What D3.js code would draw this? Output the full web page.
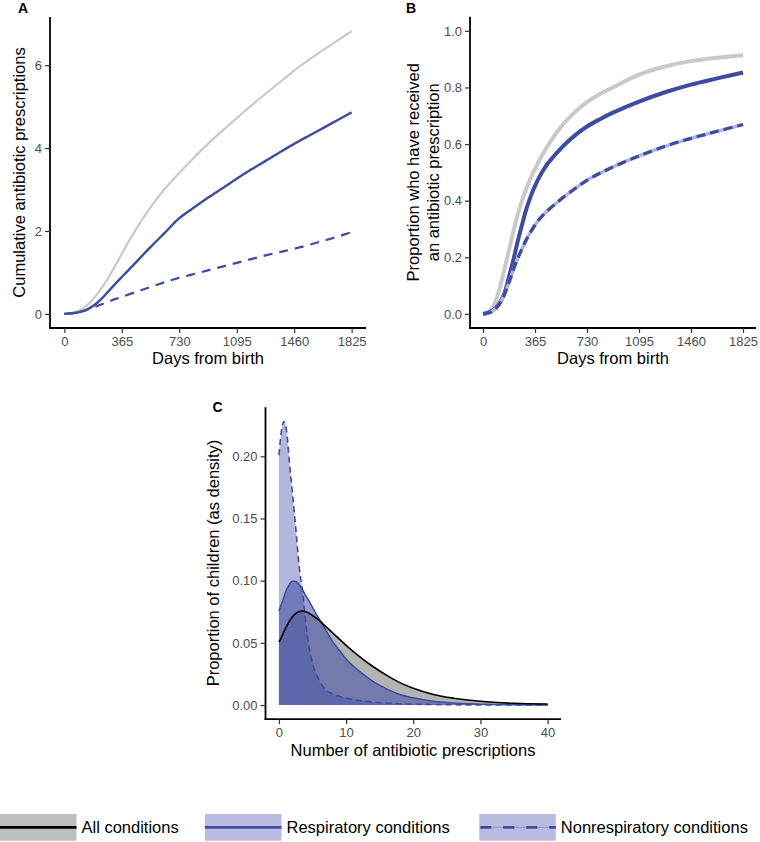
<!DOCTYPE html>
<html><head><meta charset="utf-8">
<script src="https://cdn.jsdelivr.net/npm/d3@7/dist/d3.min.js"></script>
<style>
body{margin:0;background:#fff;}
svg{display:block;font-family:"Liberation Sans",Arial,Helvetica,sans-serif;}
</style></head>
<body><svg id="chart" width="760" height="842"></svg>
<script>
// ---------- DATA ----------
const daysA = [0,30,61,91,122,152,182,213,243,274,304,335,365,456,547,639,730,821,912,1004,1095,1186,1278,1369,1460,1551,1643,1734,1825];
const cumAll = [0,0.01,0.04,0.08,0.14,0.23,0.35,0.5,0.66,0.83,1.03,1.24,1.45,2.05,2.57,3.02,3.4,3.76,4.1,4.42,4.72,5.02,5.31,5.59,5.87,6.12,6.36,6.59,6.82];
const cumResp = [0,0.01,0.02,0.04,0.07,0.12,0.19,0.28,0.39,0.52,0.645,0.77,0.89,1.25,1.61,1.96,2.31,2.56,2.8,3.03,3.26,3.48,3.69,3.9,4.1,4.29,4.48,4.67,4.86];
const cumNonresp = [0,0.005,0.02,0.04,0.07,0.11,0.15,0.195,0.24,0.285,0.33,0.37,0.41,0.53,0.65,0.765,0.87,0.96,1.05,1.14,1.23,1.32,1.41,1.49,1.57,1.66,1.76,1.86,1.97];

const daysB = [0,30,61,91,122,152,182,213,243,274,304,335,365,395,426,456,547,639,730,821,912,1095,1278,1460,1643,1825];
const propAll = [0,0.005,0.018,0.048,0.1,0.16,0.225,0.29,0.35,0.4,0.443,0.48,0.512,0.542,0.57,0.595,0.66,0.71,0.748,0.777,0.8,0.845,0.874,0.893,0.905,0.914];
const propResp = [0,0.003,0.01,0.022,0.043,0.075,0.13,0.19,0.255,0.315,0.37,0.415,0.452,0.483,0.51,0.532,0.585,0.628,0.662,0.688,0.711,0.75,0.783,0.81,0.832,0.853];
const propNonresp = [0,0.002,0.008,0.02,0.04,0.07,0.11,0.155,0.195,0.23,0.262,0.29,0.314,0.334,0.351,0.366,0.405,0.44,0.472,0.497,0.519,0.558,0.592,0.62,0.645,0.669];

const nPresc = [0,0.25,0.5,0.75,1,1.25,1.5,1.75,2,2.5,3,3.5,4,4.5,5,6,7,8,9,10,12,14,16,18,20,23,26,30,35,40];
const densAll = [0.0505,0.053,0.056,0.059,0.062,0.0645,0.067,0.069,0.071,0.0735,0.0752,0.0755,0.075,0.0738,0.072,0.068,0.063,0.058,0.053,0.048,0.039,0.031,0.024,0.018,0.0135,0.0085,0.0055,0.003,0.0014,0.0008];
const densResp = [0.0755,0.0795,0.083,0.087,0.091,0.094,0.0965,0.0985,0.0995,0.0993,0.097,0.093,0.088,0.0835,0.0785,0.069,0.06,0.051,0.044,0.037,0.027,0.019,0.013,0.0085,0.0058,0.003,0.0016,0.0007,0.0002,0.0001];
const densNonresp = [0.201,0.215,0.225,0.228,0.225,0.215,0.199,0.185,0.171,0.143,0.112,0.092,0.066,0.046,0.034,0.02,0.012,0.009,0.007,0.0056,0.0036,0.0024,0.0016,0.001,0.0007,0.0004,0.0002,0.0001,0.00004,0.00001];

const dayTicks = [0,365,730,1095,1460,1825];
const cumTicks = [0,2,4,6];
const propTicks = [0,0.2,0.4,0.6,0.8,1.0];
const nTicks = [0,10,20,30,40];
const densTicks = [0,0.05,0.10,0.15,0.20];

const legendLabels = ["All conditions","Respiratory conditions","Nonrespiratory conditions"];

// ---------- STYLE ----------
const BLUE = "#3d4c9f";
const GREY = "#c9c9c9";
const svg = d3.select("#chart");

function axes(g, x, y, xt, yt, xfmt, yfmt){
  const [x0,x1] = x.range(), [y0,y1] = y.range();
  const xa = g.append("g").attr("transform",`translate(0,${y0})`)
    .call(d3.axisBottom(x).tickValues(xt).tickFormat(xfmt).tickSize(5).tickSizeOuter(0));
  const ya = g.append("g").attr("transform",`translate(${x0},0)`)
    .call(d3.axisLeft(y).tickValues(yt).tickFormat(yfmt).tickSize(5).tickSizeOuter(0));
  [xa,ya].forEach(a=>{
    a.select(".domain").attr("stroke","#000").attr("stroke-width",1.8);
    a.selectAll(".tick line").attr("stroke","#333").attr("stroke-width",1.2);
    a.selectAll(".tick text").attr("fill","#4d4d4d").attr("font-size",13)
      .attr("font-family",'"Liberation Sans",Arial,sans-serif');
  });
  xa.selectAll(".tick text").attr("y",8.5);
  ya.selectAll(".tick text").attr("x",-8);
  xa.select(".domain").attr("d",`M${x0-0.9},0H${x1}`);
  ya.select(".domain").attr("d",`M0,${y0+0.9}V${y1}`);
}

// ---------- PANEL A ----------
{
  const x = d3.scaleLinear().domain([-91.25,1916.25]).range([50,366]);
  const y = d3.scaleLinear().domain([-0.341,7.161]).range([328,17]);
  const g = svg.append("g");
  const line = vals => d3.line().x((d,i)=>x(daysA[i])).y(d=>y(d)).curve(d3.curveCatmullRom.alpha(0.5))(vals);
  g.append("path").attr("d",line(cumAll)).attr("fill","none").attr("stroke",GREY).attr("stroke-width",2.2);
  g.append("path").attr("d",line(cumResp)).attr("fill","none").attr("stroke",BLUE).attr("stroke-width",2.4);
  g.append("path").attr("d",line(cumNonresp)).attr("fill","none").attr("stroke",BLUE).attr("stroke-width",2.2).attr("stroke-dasharray","9,7");
  axes(g,x,y,dayTicks,cumTicks,d3.format("d"),d3.format("d"));
  g.append("text").attr("x",208).attr("y",364).attr("text-anchor","middle").attr("font-size",16.5).text("Days from birth");
  g.append("text").attr("transform","translate(25,172.5) rotate(-90)").attr("text-anchor","middle").attr("font-size",16.5).text("Cumulative antibiotic prescriptions");
  g.append("text").attr("x",18).attr("y",12.8).attr("font-size",14).attr("font-weight","bold").text("A");
}

// ---------- PANEL B ----------
{
  const x = d3.scaleLinear().domain([-91.25,1916.25]).range([470,756]);
  const y = d3.scaleLinear().domain([-0.05,1.05]).range([328,16.7]);
  const g = svg.append("g");
  const line = vals => d3.line().x((d,i)=>x(daysB[i])).y(d=>y(d)).curve(d3.curveCatmullRom.alpha(0.5))(vals);
  g.append("path").attr("d",line(propAll)).attr("fill","none").attr("stroke",GREY).attr("stroke-width",4);
  g.append("path").attr("d",line(propResp)).attr("fill","none").attr("stroke",BLUE).attr("stroke-width",4);
  g.append("path").attr("d",line(propNonresp)).attr("fill","none").attr("stroke","#aeb2dc").attr("stroke-width",3.4);
  g.append("path").attr("d",line(propNonresp)).attr("fill","none").attr("stroke",BLUE).attr("stroke-width",3.2).attr("stroke-dasharray","9,5");
  axes(g,x,y,dayTicks,propTicks,d3.format("d"),d3.format(".1f"));
  g.append("text").attr("x",613).attr("y",364).attr("text-anchor","middle").attr("font-size",16.5).text("Days from birth");
  const t = g.append("g").attr("transform","translate(0,172.3)");
  t.append("text").attr("transform","translate(418.5,0) rotate(-90)").attr("text-anchor","middle").attr("font-size",16.5).text("Proportion who have received");
  t.append("text").attr("transform","translate(438.5,0) rotate(-90)").attr("text-anchor","middle").attr("font-size",16.5).text("an antibiotic prescription");
  g.append("text").attr("x",406).attr("y",12.8).attr("font-size",14).attr("font-weight","bold").text("B");
}

// ---------- PANEL C ----------
{
  const x = d3.scaleLinear().domain([-2,42]).range([265.5,561]);
  const y = d3.scaleLinear().domain([-0.0114,0.2394]).range([719.2,407.3]);
  const g = svg.append("g");
  const area = vals => d3.area().x((d,i)=>x(nPresc[i])).y0(y(0)).y1(d=>y(d)).curve(d3.curveMonotoneX)(vals);
  const line = vals => d3.line().x((d,i)=>x(nPresc[i])).y(d=>y(d)).curve(d3.curveMonotoneX)(vals);
  g.append("path").attr("d",area(densAll)).attr("fill","#808080").attr("fill-opacity",0.6);
  g.append("path").attr("d",area(densResp)).attr("fill","#3f4aa5").attr("fill-opacity",0.55);
  g.append("path").attr("d",area(densNonresp)).attr("fill","#3f4aa5").attr("fill-opacity",0.4);
  g.append("path").attr("d",line(densNonresp)).attr("fill","none").attr("stroke",BLUE).attr("stroke-width",1.6).attr("stroke-dasharray","6,4");
  g.append("path").attr("d",line(densResp)).attr("fill","none").attr("stroke",BLUE).attr("stroke-width",1.5);
  g.append("path").attr("d",line(densAll)).attr("fill","none").attr("stroke","#000").attr("stroke-width",1.6);
  axes(g,x,y,nTicks,densTicks,d3.format("d"),d3.format(".2f"));
  g.append("text").attr("x",413).attr("y",756).attr("text-anchor","middle").attr("font-size",16.5).text("Number of antibiotic prescriptions");
  g.append("text").attr("transform","translate(219,563) rotate(-90)").attr("text-anchor","middle").attr("font-size",16.5).text("Proportion of children (as density)");
  g.append("text").attr("x",212.5).attr("y",411.7).attr("font-size",14).attr("font-weight","bold").text("C");
}

// ---------- LEGEND ----------
{
  const keyX = [0,205,479.3];
  const keyFill = ["#bebebe","#b9bce0","#b9bce0"];
  const keyStroke = ["#000",BLUE,BLUE];
  const keyDash = [null,null,"11,12"];
  const g = svg.append("g");
  legendLabels.forEach((lab,i)=>{
    g.append("rect").attr("x",keyX[i]).attr("y",814).attr("width",76.5).attr("height",26.7).attr("fill",keyFill[i]);
    if(i===2) g.append("line").attr("x1",keyX[i]).attr("x2",keyX[i]+76.5).attr("y1",827.3).attr("y2",827.3).attr("stroke","#8d91cc").attr("stroke-width",1);
    g.append("line").attr("x1",keyX[i]).attr("x2",keyX[i]+76.5).attr("y1",827.3).attr("y2",827.3)
      .attr("stroke",keyStroke[i]).attr("stroke-width",2.8).attr("stroke-dasharray",keyDash[i]).attr("stroke-dashoffset",-1);
    g.append("text").attr("x",keyX[i]+81.5).attr("y",833.3).attr("font-size",16.5).text(lab);
  });
}
</script></body></html>
